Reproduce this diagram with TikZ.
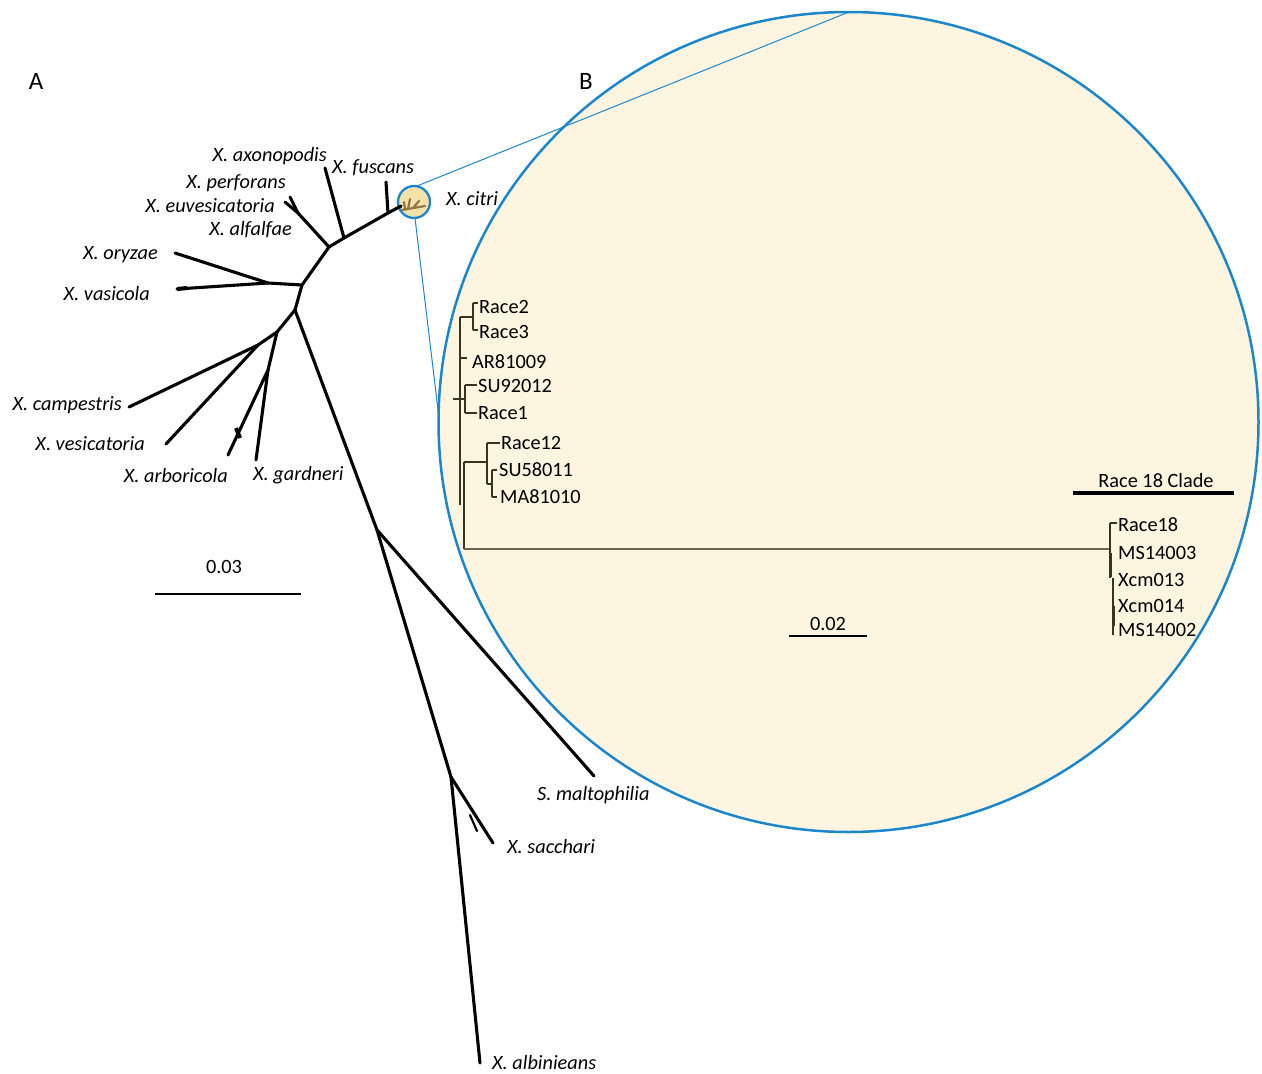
\documentclass[tikz,border=0pt]{standalone}
\usepackage{fontspec}
\setmainfont{Carlito}
\definecolor{cblue}{HTML}{1C86CB}
\definecolor{bigfill}{HTML}{FEF5E1}
\definecolor{smallfill}{HTML}{F6E2A9}
\definecolor{treeb}{HTML}{3B3320}
\definecolor{treebl}{HTML}{6E6248}
\definecolor{mini}{HTML}{927746}
\begin{document}
\begin{tikzpicture}[x=1pt,y=-1pt,
  treea/.style={line width=3.1pt,black,line cap=round,line join=round},
  tb/.style={line width=1.2pt,treeb},
  tbk/.style={line width=2.5pt,treeb},
  sp/.style={font=\fontsize{20.3}{24}\selectfont\itshape,inner sep=0pt},
  lb/.style={font=\fontsize{20.3}{24}\selectfont,inner sep=0pt,anchor=base west},
  panel/.style={font=\fontsize{25}{30}\selectfont,inner sep=0pt}]
\useasboundingbox (0,0) rectangle (1262,1074);

% ---- big circle B
\node[circle,draw=cblue,line width=2.5pt,fill=bigfill,minimum size=820pt,inner sep=0pt] (big) at (848.5,422) {};
% ---- small circle
\node[circle,draw=cblue,line width=2.3pt,fill=smallfill,minimum size=32pt,inner sep=0pt] (small) at (414,202) {};
\coordinate (zt1) at (417,186);
\coordinate (zt2) at (849,12);
\coordinate (zb1) at (415,218);
\coordinate (zb2) at (439,418);
\draw[cblue,line width=1pt] (zt1) -- (zt2);
\draw[cblue,line width=1pt] (zb1) -- (zb2);
% mini tree inside small circle
\coordinate (m1) at (402,210); \coordinate (m2) at (425,206);
\coordinate (m3) at (408,209); \coordinate (m4) at (410,199);
\coordinate (m5) at (413,208); \coordinate (m6) at (419,201);
\coordinate (m7) at (405,209); \coordinate (m8) at (404,202);
\draw[mini,line width=2.2pt,line cap=round] (m1) -- (m2) (m3) -- (m4) (m5) -- (m6) (m7) -- (m8);

% ---- tree A
\coordinate (n1) at (295,310);
\coordinate (n2) at (302,285);
\coordinate (n3) at (268,283);
\coordinate (n4) at (329,247);
\coordinate (n5) at (344,238);
\coordinate (n6) at (388,213);
\coordinate (n7) at (401,206);
\coordinate (n8) at (277,332);
\coordinate (n9) at (258,345);
\coordinate (n10) at (268,370);
\coordinate (n11) at (377,530);
\coordinate (n12) at (451,777);
\coordinate (pf) at (298,213);
\coordinate (tax) at (325,168);
\coordinate (tfu) at (386,182);
\coordinate (tp1) at (290,197);
\coordinate (tp2) at (285,202);
\coordinate (tpt) at (308,223);
\coordinate (tpb) at (303,219);
\coordinate (tor) at (175,253);
\coordinate (tva) at (177,289);
\coordinate (tvat) at (187,288);
\coordinate (tca) at (129,407);
\coordinate (tve) at (166,444);
\coordinate (tar) at (228,455);
\coordinate (tart) at (240,438);
\coordinate (tarb) at (236,428);
\coordinate (tga) at (256,460);
\coordinate (tma) at (594,776);
\coordinate (tsa) at (493,843);
\coordinate (tsat) at (477,831);
\coordinate (tsab) at (470,815);
\coordinate (tal) at (480,1063);

\draw[treea] (n1) -- (n2) -- (n4) -- (n5) -- (n6) -- (n7);
\draw[treea] (n5) -- (tax);
\draw[treea] (n6) -- (tfu);
\draw[treea] (n4) -- (pf) -- (tp1);
\draw[treea] (pf) -- (tp2);
\draw[treea,line width=2pt] (tpb) -- (tpt);
\draw[treea] (n2) -- (n3) -- (tor);
\draw[treea] (n3) -- (tva);
\draw[treea,line width=4pt,line cap=butt] (tva) -- (tvat);
\draw[treea] (n1) -- (n8) -- (n9) -- (tve);
\draw[treea] (n9) -- (tca);
\draw[treea] (n8) -- (n10) -- (tar);
\draw[treea] (n10) -- (tga);
\draw[treea,line width=4pt,line cap=butt] (tarb) -- (tart);
\draw[treea] (n1) -- (n11) -- (tma);
\draw[treea] (n11) -- (n12) -- (tsa);
\draw[treea,line width=2.2pt] (tsab) -- (tsat);
\draw[treea] (n12) -- (tal);

% labels A
\node[sp,anchor=base east] (lax) at (327,161) {X. axonopodis};
\node[sp,anchor=base west] (lfu) at (332,173) {X. fuscans};
\node[sp,anchor=base east] (lpe) at (286,188) {X. perforans};
\node[sp,anchor=base east] (leu) at (275,212) {X. euvesicatoria};
\node[sp,anchor=base east] (lal) at (292,235) {X. alfalfae};
\node[sp,anchor=base east] (lor) at (158,259) {X. oryzae};
\node[sp,anchor=base east] (lva) at (150,300) {X. vasicola};
\node[sp,anchor=base east] (lca) at (122,410) {X. campestris};
\node[sp,anchor=base east] (lve) at (145,450) {X. vesicatoria};
\node[sp,anchor=base east] (lar) at (228,482) {X. arboricola};
\node[sp,anchor=base west] (lga) at (253,480) {X. gardneri};
\node[sp,anchor=base west] (lci) at (446,205) {X. citri};
\node[sp,anchor=base west] (lma) at (537,800) {S. maltophilia};
\node[sp,anchor=base west] (lsa) at (507,853) {X. sacchari};
\node[sp,anchor=base west] (lalb) at (492,1069) {X. albinieans};

% scale A
\node[lb,anchor=base] (sa) at (224,573) {0.03};
\coordinate (sa1) at (155,594); \coordinate (sa2) at (301,594);
\draw[line width=2.4pt] (sa1) -- (sa2);

% panel letters
\node[panel] (pa) at (36,81) {A};
\node[panel] (pb) at (586,81) {B};

% ---- tree B
\coordinate (r0) at (453,399);
\coordinate (r1) at (460,399);
\coordinate (v1a) at (460,317); \coordinate (v1b) at (460,505);
\coordinate (v2a) at (464,462); \coordinate (v2b) at (464,549);
\coordinate (c23) at (473,317);
\coordinate (c23a) at (473,303); \coordinate (c23b) at (473,330);
\coordinate (t2) at (478,303); \coordinate (t3) at (478,330);
\coordinate (tab0) at (460,358); \coordinate (tab) at (467,358);
\coordinate (c1a) at (465,385); \coordinate (c1b) at (465,413);
\coordinate (c1m) at (460,399);
\coordinate (tsu9) at (477,385); \coordinate (tr1) at (477,413);
\coordinate (c12) at (487,462);
\coordinate (c12a) at (487,443); \coordinate (c12b) at (487,484);
\coordinate (tr12) at (500,443);
\coordinate (c58m) at (487,484);
\coordinate (c58) at (492,484);
\coordinate (c58a) at (492,470); \coordinate (c58b) at (492,497);
\coordinate (t58) at (497,470); \coordinate (t81) at (497,497);
\coordinate (h18) at (1110,549);
\coordinate (v18a) at (1110,523); \coordinate (v18b) at (1110,578);
\coordinate (v18c) at (1113,578); \coordinate (v18d) at (1113,635);
\coordinate (t18) at (1117,523);
\coordinate (k1) at (1110,553); \coordinate (k2) at (1110,577);
\coordinate (k3) at (1113,606); \coordinate (k4) at (1113,626);

\draw[tb] (r0) -- (r1);
\draw[tbk] (v1a) -- (v1b);
\draw[tbk] (v2a) -- (v2b);
\draw[tb] (v1a) -- (c23);
\draw[tbk] (c23a) -- (c23b);
\draw[tb] (c23a) -- (t2);
\draw[tb] (c23b) -- (t3);
\draw[tb] (tab0) -- (tab);
\draw[tb] (c1m) -- (c1a |- c1m);
\draw[tbk,line width=1.8pt] (c1a) -- (c1b);
\draw[tb] (c1a) -- (tsu9);
\draw[tb] (c1b) -- (tr1);
\draw[tb] (v2a) -- (c12);
\draw[tbk,line width=1.8pt] (c12a) -- (c12b);
\draw[tb] (c12a) -- (tr12);
\draw[tb] (c58m) -- (c58);
\draw[tbk,line width=1.8pt] (c58a) -- (c58b);
\draw[tb] (c58a) -- (t58);
\draw[tb] (c58b) -- (t81);
\draw[treebl,line width=1.2pt] (v2b) -- (h18);
\draw[tb] (v18a) -- (v18b);
\draw[tb] (v18c) -- (v18d);
\draw[tb] (v18a) -- (t18);
\draw[tbk,line width=3pt] (k1) -- (k2);
\draw[tbk,line width=3pt] (k3) -- (k4);

% labels B
\node[lb] (lr2) at (479,313) {Race2};
\node[lb] (lr3) at (479,338) {Race3};
\node[lb] (lar8) at (472,368) {AR81009};
\node[lb] (lsu9) at (478,392) {SU92012};
\node[lb] (lr1) at (478,419) {Race1};
\node[lb] (lr12) at (501,449) {Race12};
\node[lb] (lsu5) at (499,476) {SU58011};
\node[lb] (lma8) at (500,503) {MA81010};
\node[lb] (lr18) at (1118,531) {Race18};
\node[lb] (lms3) at (1118,559) {MS14003};
\node[lb] (lx13) at (1118,586) {Xcm013};
\node[lb] (lx14) at (1118,612) {Xcm014};
\node[lb] (lms2) at (1118,636) {MS14002};

\node[lb,anchor=base] (lclade) at (1156,487) {Race 18 Clade};
\coordinate (cl1) at (1073,493); \coordinate (cl2) at (1234,493);
\draw[line width=3.2pt] (cl1) -- (cl2);

\node[lb,anchor=base] (sb) at (828,630) {0.02};
\coordinate (sb1) at (789,636); \coordinate (sb2) at (867,636);
\draw[line width=2.6pt] (sb1) -- (sb2);
\end{tikzpicture}
\end{document}
